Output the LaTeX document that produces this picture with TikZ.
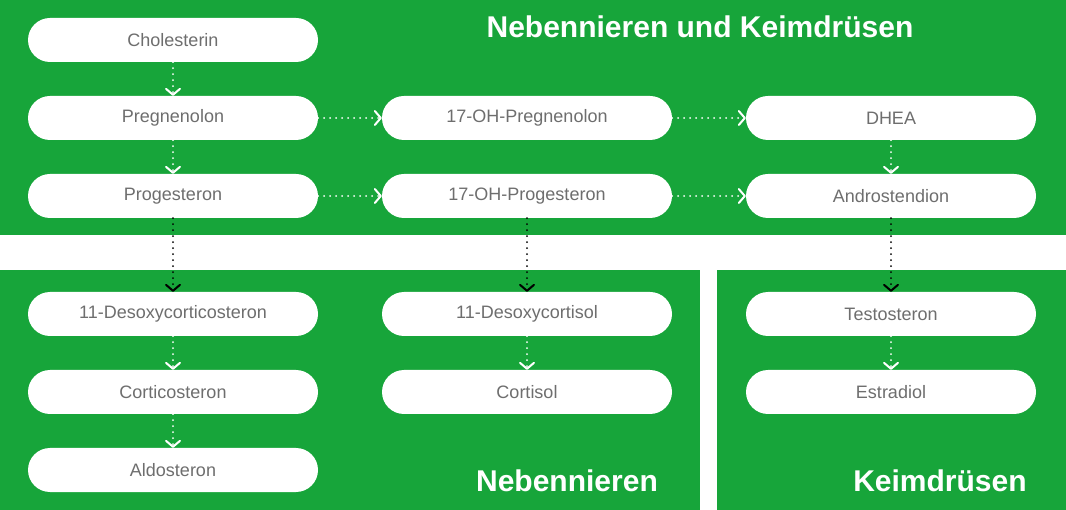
\documentclass[tikz,border=0pt]{standalone}
\usepackage{fontspec}
\setmainfont{Liberation Sans}
\usetikzlibrary{arrows.meta}
\definecolor{grn}{HTML}{17A53A}
\definecolor{txt}{HTML}{6E6E6E}
\tikzset{
  pill/.style={fill=white,rounded corners=22pt,minimum width=290pt,minimum height=44pt,inner sep=0pt,text=txt,font=\fontsize{18}{20}\selectfont},
  flow/.style={white,line width=2pt,line cap=round,dash pattern=on 0pt off 6pt,-{Straight Barb[length=6pt,width=14pt,line width=2pt,round]}},
  flowk/.style={flow,black},
  ttl/.style={text=white,font=\bfseries\fontsize{30}{32}\selectfont,anchor=base}
}
\begin{document}
\begin{tikzpicture}[x=1pt,y=-1pt]
\useasboundingbox (0,0) rectangle (1066,510);
\fill[white] (0,0) rectangle (1066,510);
\fill[grn] (0,0) rectangle (1066,235);
\fill[grn] (0,270) rectangle (700,510);
\fill[grn] (717,270) rectangle (1066,510);
\node[ttl] (t1) at (700,38) {Nebennieren und Keimdrüsen};
\node[ttl] (t2) at (567,492) {Nebennieren};
\node[ttl] (t3) at (940,492) {Keimdrüsen};
\node[pill] (chol) at (173,40) {Cholesterin};
\node[pill] (preg) at (173,118) {Pregnenolon};
\node[pill] (prog) at (173,196) {Progesteron};
\node[pill] (ohpreg) at (527,118) {17-OH-Pregnenolon};
\node[pill] (ohprog) at (527,196) {17-OH-Progesteron};
\node[pill] (dhea) at (891,118) {DHEA};
\node[pill] (andr) at (891,196) {Androstendion};
\node[pill] (doc) at (173,314) {11-Desoxycorticosteron};
\node[pill] (cort) at (173,392) {Corticosteron};
\node[pill] (aldo) at (173,470) {Aldosteron};
\node[pill] (dcol) at (527,314) {11-Desoxycortisol};
\node[pill] (cols) at (527,392) {Cortisol};
\node[pill] (test) at (891,314) {Testosteron};
\node[pill] (estr) at (891,392) {Estradiol};
\draw[flow] (chol) -- (preg);
\draw[flow] (preg) -- (prog);
\draw[flow] (preg) -- (ohpreg);
\draw[flow] (ohpreg) -- (dhea);
\draw[flow] (prog) -- (ohprog);
\draw[flow] (ohprog) -- (andr);
\draw[flow] (dhea) -- (andr);
\draw[flowk] (prog) -- (doc);
\draw[flowk] (ohprog) -- (dcol);
\draw[flowk] (andr) -- (test);
\draw[flow] (doc) -- (cort);
\draw[flow] (cort) -- (aldo);
\draw[flow] (dcol) -- (cols);
\draw[flow] (test) -- (estr);
\end{tikzpicture}
\end{document}
